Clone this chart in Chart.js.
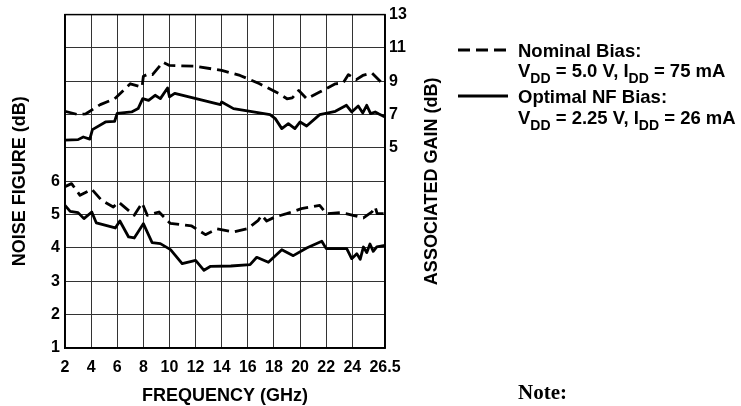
<!DOCTYPE html>
<html>
<head>
<meta charset="utf-8">
<script src="https://cdn.jsdelivr.net/npm/chart.js@4.4.0/dist/chart.umd.min.js"></script>
<style>
  html, body { margin: 0; padding: 0; background: #fff; }
  #wrap { position: relative; width: 741px; height: 406px; }
</style>
</head>
<body>
<div id="wrap"><canvas id="chart" width="741" height="406"></canvas></div>
<script>
/* ── data ─────────────────────────────────────────────────── */

// Associated gain, nominal bias (dashed), dB
const nominalGainFreq = [2, 3.0, 3.6, 4.7, 5.8, 7.0, 7.9, 8.0, 8.4, 8.7, 9.5, 10, 12, 14, 15.4, 16.9, 18.4, 19.0, 19.4, 19.9, 20.5, 21.5, 22.7, 23.3, 23.7, 24.3, 24.8, 25.5, 26.2, 26.5];
const nominalGain     = [7.2, 7.0, 7.05, 7.6, 7.95, 8.85, 8.65, 9.3, 9.45, 9.4, 10.15, 9.95, 9.9, 9.65, 9.35, 8.85, 8.25, 7.95, 8.0, 8.45, 7.95, 8.35, 8.85, 8.9, 9.4, 9.1, 9.35, 9.5, 8.95, 9.05];

// Associated gain, optimal NF bias (solid), dB
const optimalGainFreq = [2, 3.0, 3.4, 3.9, 4.1, 5.1, 5.8, 6.0, 7.1, 7.6, 7.95, 8.4, 8.9, 9.3, 9.85, 10.0, 10.4, 13.9, 14.0, 14.9, 17.7, 18.1, 18.6, 19.1, 19.6, 20.0, 20.5, 21.5, 22.7, 23.55, 23.95, 24.45, 24.8, 25.1, 25.4, 25.75, 26.0, 26.5];
const optimalGain     = [5.47, 5.5, 5.66, 5.53, 6.1, 6.56, 6.6, 7.08, 7.16, 7.36, 7.96, 7.86, 8.16, 7.96, 8.6, 8.06, 8.28, 7.6, 7.76, 7.36, 7.0, 6.76, 6.16, 6.46, 6.16, 6.56, 6.32, 7.0, 7.2, 7.56, 7.16, 7.52, 7.1, 7.56, 7.06, 7.16, 7.05, 6.86];

// Noise figure, nominal bias (dashed), dB
const nominalNfFreq = [2, 2.5, 3.15, 4.05, 4.8, 5.7, 6.1, 7.3, 7.9, 8.3, 9.2, 10.05, 11.7, 12.75, 13.65, 14.9, 16.0, 16.8, 17.06, 17.44, 18.08, 18.97, 20.1, 21.5, 22.0, 23.06, 23.5, 24.85, 25.5, 25.75, 25.9, 26.5];
const nominalNf     = [5.84, 5.93, 5.58, 5.76, 5.43, 5.23, 5.38, 4.98, 5.35, 4.98, 5.08, 4.74, 4.66, 4.4, 4.57, 4.48, 4.58, 4.83, 4.98, 4.81, 4.93, 5.03, 5.18, 5.28, 5.03, 5.06, 5.03, 4.9, 5.08, 5.23, 5.03, 5.03];

// Noise figure, optimal NF bias (solid), dB
const optimalNfFreq = [2, 2.4, 3.0, 3.45, 4.05, 4.4, 5.85, 6.2, 6.87, 7.3, 8.0, 8.67, 9.3, 10.08, 10.97, 12.0, 12.64, 13.15, 14.7, 16.17, 16.68, 17.57, 18.6, 19.48, 20.5, 21.66, 22.0, 23.57, 23.95, 24.34, 24.6, 24.85, 25.1, 25.35, 25.6, 25.87, 26.5];
const optimalNf     = [5.28, 5.1, 5.06, 4.88, 5.08, 4.75, 4.6, 4.81, 4.33, 4.3, 4.73, 4.16, 4.13, 3.95, 3.53, 3.63, 3.33, 3.45, 3.46, 3.5, 3.72, 3.57, 3.95, 3.77, 4.0, 4.2, 3.98, 3.98, 3.68, 3.83, 3.66, 4.03, 3.86, 4.12, 3.9, 4.03, 4.08];

const freqTicks = [2, 4, 6, 8, 10, 12, 14, 16, 18, 20, 22, 24, 26.5];
const nfGrid    = [1, 2, 3, 4, 5, 6, 7, 8, 9, 10, 11];
const nfLabels  = [1, 2, 3, 4, 5, 6];
const gainTicks = [5, 7, 9, 11, 13];

/* ── layout ───────────────────────────────────────────────── */

const FONT = '"Liberation Sans", Arial, Helvetica, sans-serif';
const PLOT_RIGHT = 385;
const RIGHT_AXIS_W = 30;
const DASH = [12, 6];
const LINE_W = 2.8;

const pts = (xs, ys) => xs.map((x, i) => ({ x, y: ys[i] }));

function lineSet(label, xs, ys, axis, dashed) {
  return {
    label,
    data: pts(xs, ys),
    yAxisID: axis,
    borderColor: '#000',
    borderWidth: LINE_W,
    borderDash: dashed ? DASH : [],
    borderJoinStyle: 'round',
    pointRadius: 0,
    tension: 0,
    fill: false
  };
}

// draw a text run with subscript pieces, e.g. [['V'], ['DD', true], [' = 5.0 V']]
function drawRuns(ctx, runs, x, y) {
  runs.forEach(([t, sub]) => {
    ctx.font = sub ? 'bold 14px ' + FONT : 'bold 18.5px ' + FONT;
    ctx.fillText(t, x, sub ? y + 5.5 : y);
    x += ctx.measureText(t).width;
  });
}

const extras = {
  id: 'extras',
  afterDraw(chart) {
    const { ctx, chartArea: a } = chart;
    ctx.save();

    // frame round the plot
    ctx.strokeStyle = '#000';
    ctx.lineWidth = 1.5;
    ctx.strokeRect(a.left, a.top, a.right - a.left, a.bottom - a.top);

    // right axis title reads bottom-to-top
    ctx.fillStyle = '#000';
    ctx.font = 'bold 18px ' + FONT;
    ctx.textAlign = 'center';
    ctx.textBaseline = 'middle';
    ctx.translate(432, (a.top + a.bottom) / 2);
    ctx.rotate(-Math.PI / 2);
    ctx.fillText('ASSOCIATED GAIN (dB)', 0, 0);
    ctx.restore();

    // legend
    ctx.save();
    ctx.strokeStyle = '#000';
    ctx.lineWidth = LINE_W;
    ctx.setLineDash(DASH);
    ctx.beginPath(); ctx.moveTo(458, 50); ctx.lineTo(508, 50); ctx.stroke();
    ctx.setLineDash([]);
    ctx.beginPath(); ctx.moveTo(458, 96); ctx.lineTo(508, 96); ctx.stroke();

    ctx.fillStyle = '#000';
    ctx.textAlign = 'left';
    ctx.textBaseline = 'alphabetic';
    drawRuns(ctx, [['Nominal Bias:']], 518, 57);
    drawRuns(ctx, [['V'], ['DD', true], [' = 5.0 V, I'], ['DD', true], [' = 75 mA']], 518, 77);
    drawRuns(ctx, [['Optimal NF Bias:']], 518, 103);
    drawRuns(ctx, [['V'], ['DD', true], [' = 2.25 V, I'], ['DD', true], [' = 26 mA']], 518, 124);

    ctx.font = 'bold 21px "Liberation Serif", "Times New Roman", serif';
    ctx.fillText('Note:', 518, 399);
    ctx.restore();
  }
};

const tickFont = { family: FONT, size: 16, weight: 'bold' };
const titleFont = { family: FONT, size: 18, weight: 'bold', lineHeight: 1 };
const gridStyle = { color: '#333', lineWidth: 1, drawTicks: false };

new Chart(document.getElementById('chart'), {
  type: 'line',
  data: {
    datasets: [
      lineSet('Nominal Bias gain', nominalGainFreq, nominalGain, 'yGain', true),
      lineSet('Optimal NF Bias gain', optimalGainFreq, optimalGain, 'yGain', false),
      lineSet('Nominal Bias NF', nominalNfFreq, nominalNf, 'yNf', true),
      lineSet('Optimal NF Bias NF', optimalNfFreq, optimalNf, 'yNf', false)
    ]
  },
  options: {
    responsive: false,
    animation: false,
    layout: { padding: { top: 13, left: 0, bottom: 0, right: 741 - PLOT_RIGHT - RIGHT_AXIS_W } },
    plugins: { legend: { display: false }, tooltip: { enabled: false } },
    scales: {
      x: {
        type: 'linear',
        min: 2, max: 26.5,
        afterBuildTicks: s => { s.ticks = freqTicks.map(v => ({ value: v })); },
        afterFit: s => { s.height = 58; },
        grid: gridStyle,
        border: { color: '#000', width: 1.5 },
        ticks: { color: '#000', font: tickFont, padding: 10, maxRotation: 0, autoSkip: false, callback: v => v },
        title: { display: true, text: 'FREQUENCY (GHz)', color: '#000', font: titleFont, padding: { top: 0, bottom: 1 } }
      },
      yNf: {
        type: 'linear',
        position: 'left',
        min: 1, max: 11,
        afterBuildTicks: s => { s.ticks = nfGrid.map(v => ({ value: v })); },
        afterFit: s => { s.width = 65; },
        grid: gridStyle,
        border: { color: '#000', width: 1.5 },
        ticks: { color: '#000', font: tickFont, padding: 5, autoSkip: false,
                 callback: v => nfLabels.includes(v) ? v : '' },
        title: { display: true, text: 'NOISE FIGURE (dB)', color: '#000', font: titleFont, padding: { top: 11, bottom: 0 } }
      },
      yGain: {
        type: 'linear',
        position: 'right',
        min: -7, max: 13,
        afterBuildTicks: s => { s.ticks = gainTicks.map(v => ({ value: v })); },
        afterFit: s => { s.width = RIGHT_AXIS_W; },
        grid: { display: false, drawTicks: false },
        border: { color: '#000', width: 1.5 },
        ticks: { color: '#000', font: tickFont, padding: 4, autoSkip: false }
      }
    }
  },
  plugins: [extras]
});
</script>
</body>
</html>
